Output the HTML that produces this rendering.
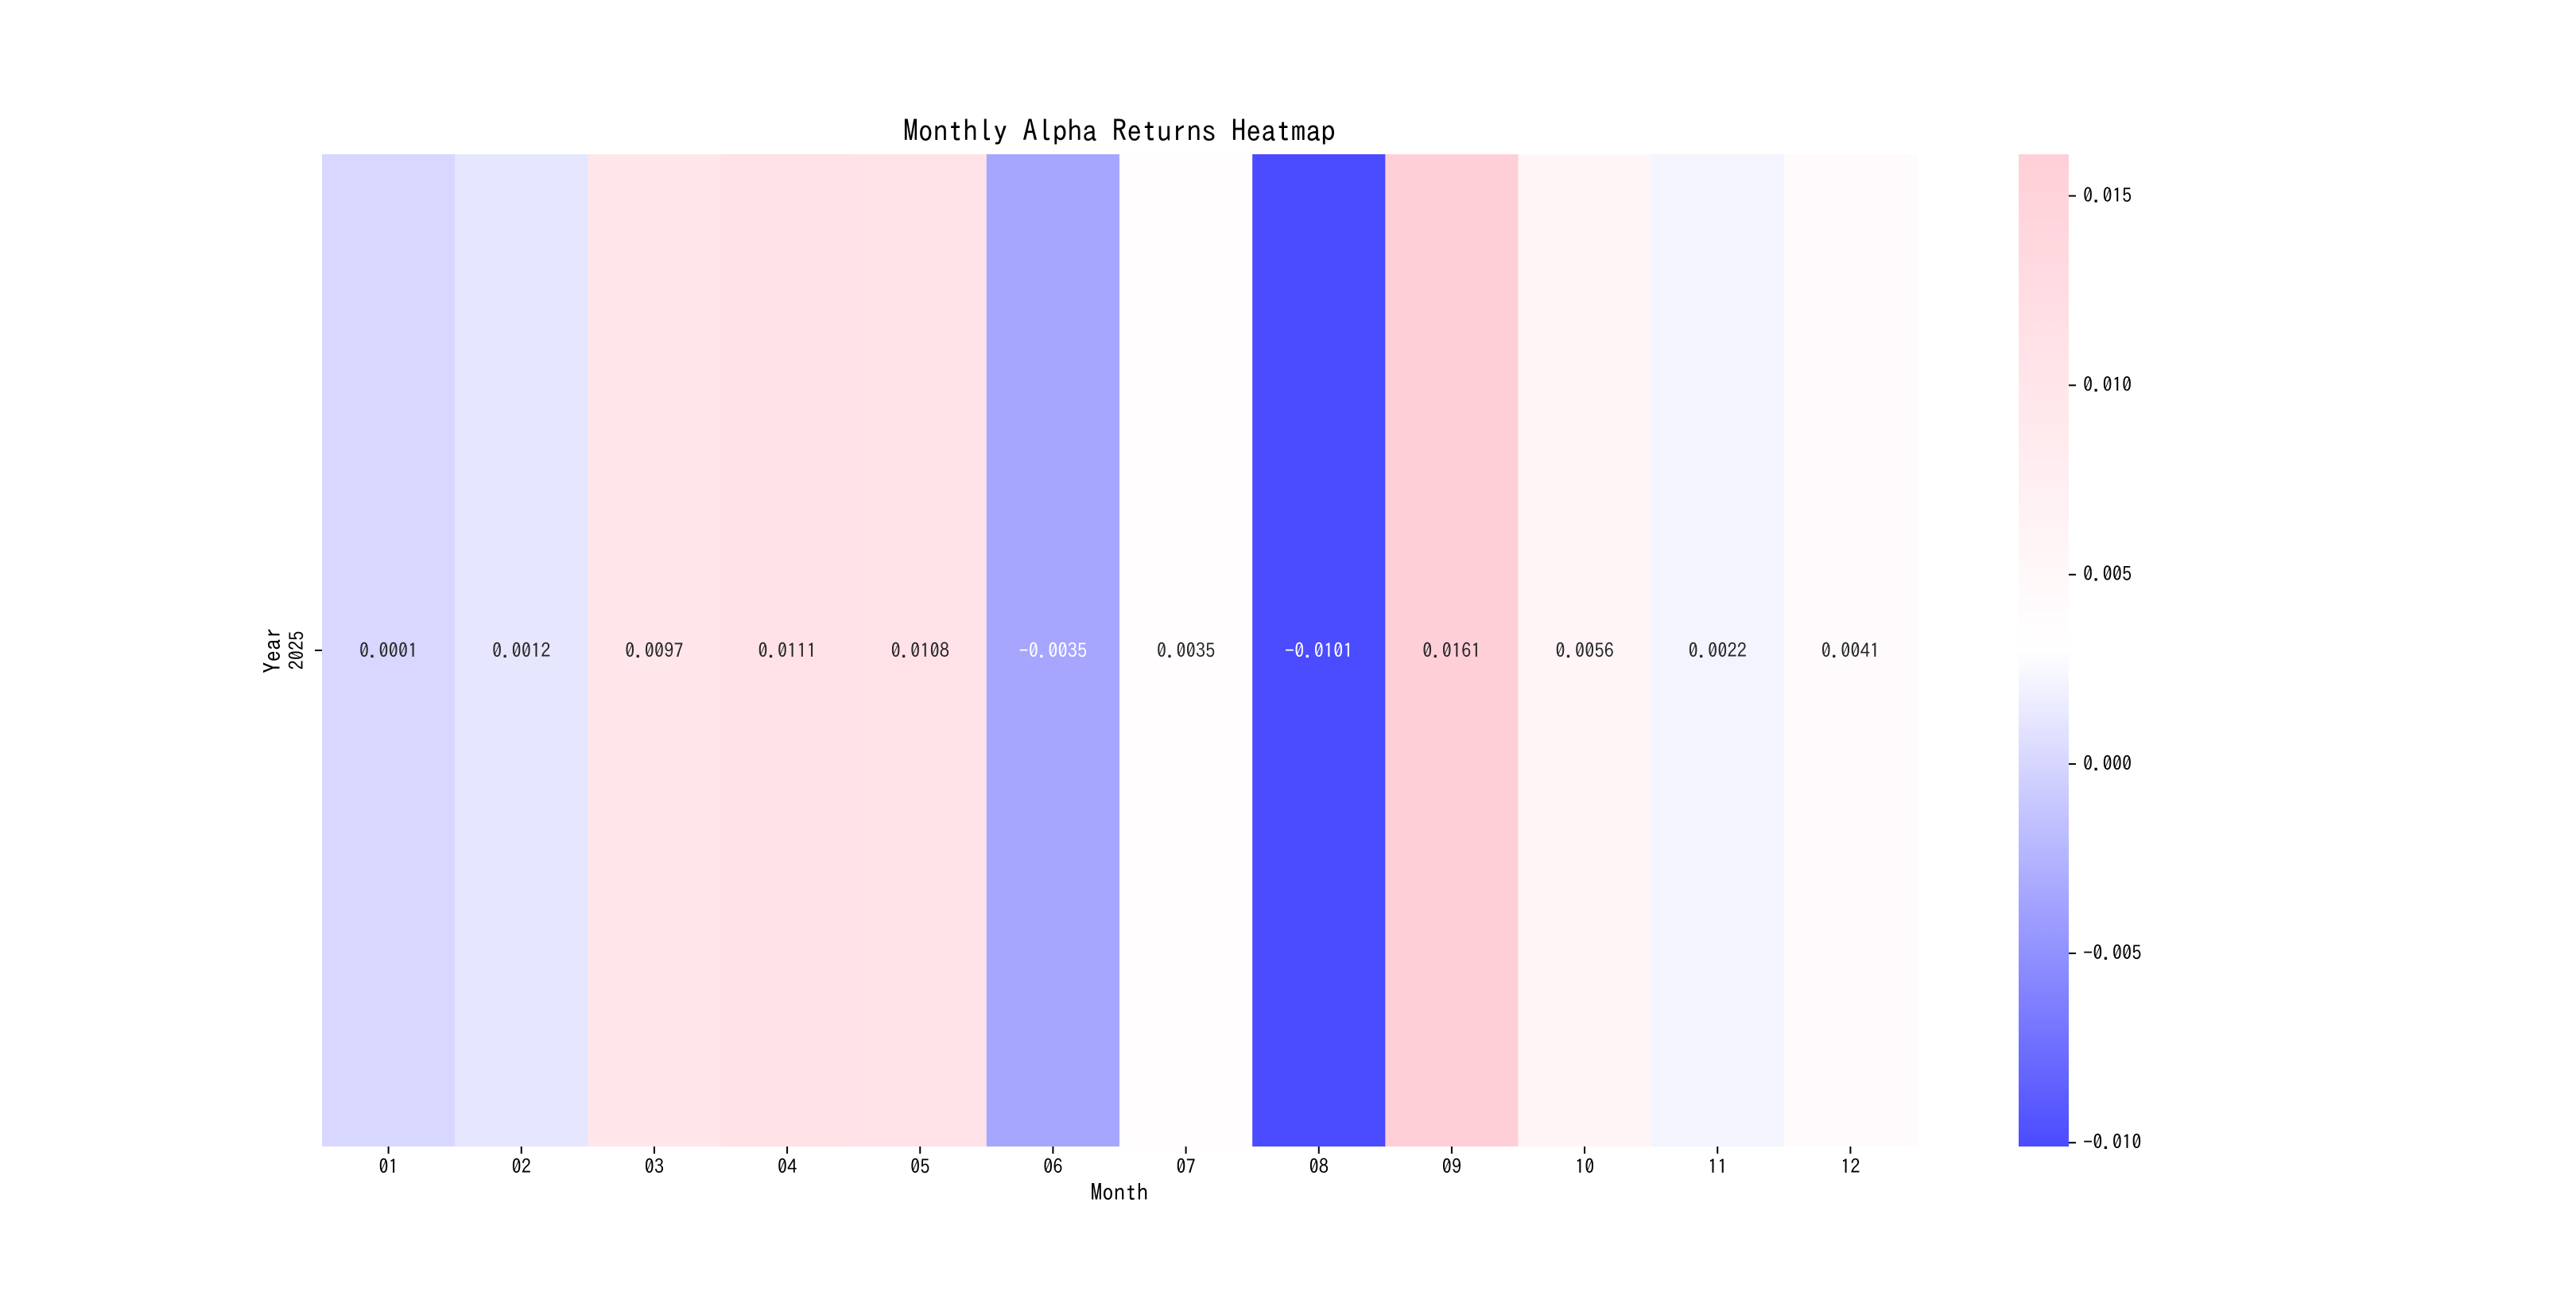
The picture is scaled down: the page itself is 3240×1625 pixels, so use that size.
<!DOCTYPE html>
<html><head><meta charset="utf-8"><style>
html,body{margin:0;padding:0;background:#fff;}
svg text{font-family:"WenQuanYi Zen Hei Mono","WenQuanYi Zen Hei","IPAGothic","Liberation Mono",monospace;}
</style></head><body>
<svg id="chart" width="3240" height="1620" xmlns="http://www.w3.org/2000/svg">
<text x="1408" y="178" font-size="37.5" text-anchor="middle">Monthly Alpha Returns Heatmap</text>
<g id="cells"></g>
<g id="xticks"></g>
<text x="1408" y="1510" font-size="29" text-anchor="middle">Month</text>
<g>
<line x1="396" y1="818" x2="405" y2="818" stroke="#000" stroke-width="2"/>
<text transform="translate(382,818) rotate(-90)" font-size="24.5" text-anchor="middle">2025</text>
<text transform="translate(353,818) rotate(-90)" font-size="29" text-anchor="middle">Year</text>
</g>
<defs><linearGradient id="cbg" x1="0" y1="1" x2="0" y2="0">
<stop offset="0" stop-color="rgb(75,75,255)"/><stop offset="0.5" stop-color="#fff"/><stop offset="1" stop-color="rgb(255,207,215)"/>
</linearGradient></defs>
<rect x="2539" y="194" width="63" height="1248" fill="url(#cbg)"/>
<g id="cbticks"></g>
</svg>
<script>
const months = ["01","02","03","04","05","06","07","08","09","10","11","12"];
const values = [0.0001,0.0012,0.0097,0.0111,0.0108,-0.0035,0.0035,-0.0101,0.0161,0.0056,0.0022,0.0041];
const cbTickValues = [-0.010,-0.005,0.000,0.005,0.010,0.015];
const cbTickLabels = ["\u22120.010","\u22120.005","0.000","0.005","0.010","0.015"];
const NS="http://www.w3.org/2000/svg";
const L=405,R=2411,T=194,B=1442;
const vmin=Math.min(...values), vmax=Math.max(...values), mid=(vmin+vmax)/2;
const cw=(R-L)/months.length;
function color(v){
  if(v<mid){const t=(mid-v)/(mid-vmin);const c=Math.round(255-t*180);return `rgb(${c},${c},255)`;}
  const t=(v-mid)/(vmax-mid);return `rgb(255,${Math.round(255-t*48)},${Math.round(255-t*40)})`;
}
function cy(v){return B-(v-vmin)/(vmax-vmin)*(B-T);}
const cells=document.getElementById('cells'), xt=document.getElementById('xticks'), cb=document.getElementById('cbticks');
months.forEach((m,i)=>{
  const v=values[i];
  const r=document.createElementNS(NS,'rect');
  
  
  r.setAttribute('x',L+i*cw);r.setAttribute('y',T);r.setAttribute('width',cw+0.5);r.setAttribute('height',B-T);r.setAttribute('fill',color(v));
  cells.appendChild(r);
  const t=document.createElementNS(NS,'text');
  
  
  t.setAttribute('x',L+(i+0.5)*cw);t.setAttribute('y',827);t.setAttribute('font-size','24.5');t.setAttribute('text-anchor','middle');
  const t2=(mid-v)/(mid-vmin);
  t.setAttribute('fill',(v<mid && t2>0.45)?'#fff':'#262626');
  t.textContent=(v<0?'\u2212':'')+Math.abs(v).toFixed(4);
  cells.appendChild(t);
  const tk=document.createElementNS(NS,'line');
  
  
  const x=L+(i+0.5)*cw;
  tk.setAttribute('x1',x);tk.setAttribute('x2',x);tk.setAttribute('y1',B);tk.setAttribute('y2',B+9);tk.setAttribute('stroke','#000');tk.setAttribute('stroke-width','2');
  xt.appendChild(tk);
  const lb=document.createElementNS(NS,'text');
  
  
  lb.setAttribute('x',x);lb.setAttribute('y',1476);lb.setAttribute('font-size','24.5');lb.setAttribute('text-anchor','middle');
  lb.textContent=m;xt.appendChild(lb);
});
cbTickValues.forEach((v,i)=>{
  const y=cy(v);
  const tk=document.createElementNS(NS,'line');
  
  
  tk.setAttribute('x1',2602);tk.setAttribute('x2',2611);tk.setAttribute('y1',y);tk.setAttribute('y2',y);tk.setAttribute('stroke','#000');tk.setAttribute('stroke-width','2');
  cb.appendChild(tk);
  const lb=document.createElementNS(NS,'text');
  
  
  lb.setAttribute('x',2620);lb.setAttribute('y',y+8);lb.setAttribute('font-size','24.5');
  lb.textContent=cbTickLabels[i];cb.appendChild(lb);
});
</script>
</body></html>
